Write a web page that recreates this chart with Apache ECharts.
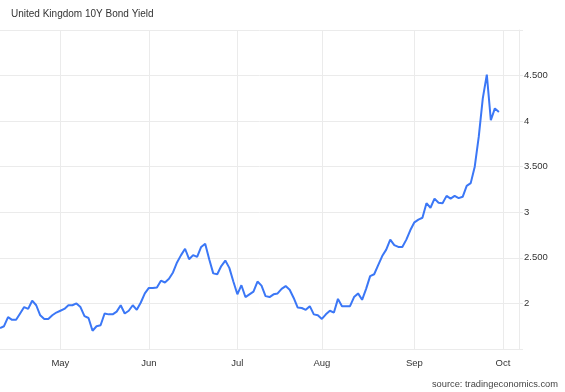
<!DOCTYPE html>
<html>
<head>
<meta charset="utf-8">
<script src="https://cdn.jsdelivr.net/npm/echarts@6/dist/echarts.min.js"></script>
<style>
html,body{margin:0;padding:0;background:#fff;}
#chart{width:565px;height:392px;}
</style>
</head>
<body>
<div id="chart"></div>
<script>
// Trading days (weekdays) Apr 11 2022 - Oct 7 2022
const dates = [
"2022-04-11","2022-04-12","2022-04-13","2022-04-14","2022-04-15","2022-04-18","2022-04-19","2022-04-20","2022-04-21","2022-04-22","2022-04-25","2022-04-26","2022-04-27","2022-04-28","2022-04-29",
"2022-05-02","2022-05-03","2022-05-04","2022-05-05","2022-05-06","2022-05-09","2022-05-10","2022-05-11","2022-05-12","2022-05-13","2022-05-16","2022-05-17","2022-05-18","2022-05-19","2022-05-20","2022-05-23","2022-05-24","2022-05-25","2022-05-26","2022-05-27","2022-05-30","2022-05-31",
"2022-06-01","2022-06-02","2022-06-03","2022-06-06","2022-06-07","2022-06-08","2022-06-09","2022-06-10","2022-06-13","2022-06-14","2022-06-15","2022-06-16","2022-06-17","2022-06-20","2022-06-21","2022-06-22","2022-06-23","2022-06-24","2022-06-27","2022-06-28","2022-06-29","2022-06-30",
"2022-07-01","2022-07-04","2022-07-05","2022-07-06","2022-07-07","2022-07-08","2022-07-11","2022-07-12","2022-07-13","2022-07-14","2022-07-15","2022-07-18","2022-07-19","2022-07-20","2022-07-21","2022-07-22","2022-07-25","2022-07-26","2022-07-27","2022-07-28","2022-07-29",
"2022-08-01","2022-08-02","2022-08-03","2022-08-04","2022-08-05","2022-08-08","2022-08-09","2022-08-10","2022-08-11","2022-08-12","2022-08-15","2022-08-16","2022-08-17","2022-08-18","2022-08-19","2022-08-22","2022-08-23","2022-08-24","2022-08-25","2022-08-26","2022-08-29","2022-08-30","2022-08-31",
"2022-09-01","2022-09-02","2022-09-05","2022-09-06","2022-09-07","2022-09-08","2022-09-09","2022-09-12","2022-09-13","2022-09-14","2022-09-15","2022-09-16","2022-09-19","2022-09-20","2022-09-21","2022-09-22","2022-09-23","2022-09-26","2022-09-27","2022-09-28","2022-09-29","2022-09-30",
"2022-10-03","2022-10-04","2022-10-05","2022-10-06","2022-10-07"
];

// 10Y yield (%), Apr 11 - Sep 30 2022
const yields = [
1.73,1.75,1.85,1.82,1.82,1.89,1.96,1.94,2.03,1.98,1.87,1.83,1.83,1.87,1.90,
1.92,1.94,1.98,1.98,2.00,1.96,1.86,1.84,1.70,1.75,1.76,1.89,1.88,1.88,1.91,1.98,1.89,1.92,1.98,1.93,2.01,2.11,
2.17,2.17,2.175,2.25,2.23,2.27,2.34,2.45,2.53,2.60,2.485,2.53,2.51,2.62,2.655,2.485,2.33,2.32,2.41,2.47,2.39,2.24,
2.10,2.20,2.07,2.10,2.13,2.24,2.195,2.08,2.07,2.10,2.11,2.16,2.19,2.15,2.06,1.955,1.95,1.93,1.97,1.88,1.87,
1.83,1.88,1.92,1.90,2.05,1.97,1.97,1.97,2.07,2.11,2.04,2.16,2.30,2.32,2.42,2.52,2.59,2.70,2.64,2.62,2.62,2.70,2.805,
2.89,2.92,2.94,3.10,3.05,3.15,3.105,3.10,3.18,3.15,3.18,3.155,3.17,3.29,3.32,3.50,3.83,4.25,4.51,4.01,4.14,4.10
];

const monthNames = ["Jan","Feb","Mar","Apr","May","Jun","Jul","Aug","Sep","Oct","Nov","Dec"];
const yTicks = [2, 2.5, 3, 3.5, 4, 4.5];

const seriesData = dates.map((d, i) => i < yields.length ? yields[i] : null);

function isMonthStart(i) {
  if (i === 0) return false;
  return dates[i].slice(5, 7) !== dates[i - 1].slice(5, 7);
}

const FONT = '"Liberation Sans", Arial, Helvetica, sans-serif';
const GRID_COLOR = '#ebebeb';

const chart = echarts.init(document.getElementById('chart'), null, {renderer: 'canvas'});
chart.setOption({
  animation: false,
  backgroundColor: '#fff',
  title: [
    {
      text: 'United Kingdom 10Y Bond Yield',
      left: 11, top: 9, padding: 0,
      textStyle: {fontFamily: FONT, fontSize: 10, fontWeight: 'normal', color: '#333'}
    },
    {
      text: 'source: tradingeconomics.com',
      right: 7, bottom: 3, padding: 0,
      textStyle: {fontFamily: FONT, fontSize: 9.3, fontWeight: 'normal', color: '#444'}
    }
  ],
  grid: {left: -1, right: 46, top: 30, bottom: 43, containLabel: false},
  xAxis: {
    type: 'category',
    data: dates,
    boundaryGap: false,
    axisLine: {show: true, lineStyle: {color: GRID_COLOR, width: 1}},
    axisTick: {show: false},
    axisLabel: {
      interval: (i) => isMonthStart(i),
      formatter: (v) => monthNames[parseInt(v.slice(5, 7), 10) - 1],
      fontFamily: FONT, fontSize: 9.5, color: '#333', margin: 9
    },
    splitLine: {show: true, interval: (i) => isMonthStart(i), lineStyle: {color: GRID_COLOR, width: 1}}
  },
  yAxis: {
    type: 'value',
    position: 'right',
    min: 1.5, max: 5, interval: 0.5,
    axisLine: {show: true, lineStyle: {color: GRID_COLOR, width: 1}},
    axisTick: {show: true, length: 4, lineStyle: {color: GRID_COLOR}},
    axisLabel: {
      fontFamily: FONT, fontSize: 9.5, color: '#333', margin: 5,
      formatter: (v) => yTicks.indexOf(v) < 0 ? '' : (v % 1 ? v.toFixed(3) : String(v))
    },
    splitLine: {show: true, lineStyle: {color: GRID_COLOR, width: 1}}
  },
  series: [{
    type: 'line',
    data: seriesData,
    showSymbol: false,
    connectNulls: false,
    lineStyle: {color: '#3b77f6', width: 2},
    itemStyle: {color: '#3b77f6'}
  }]
});
</script>
</body>
</html>
